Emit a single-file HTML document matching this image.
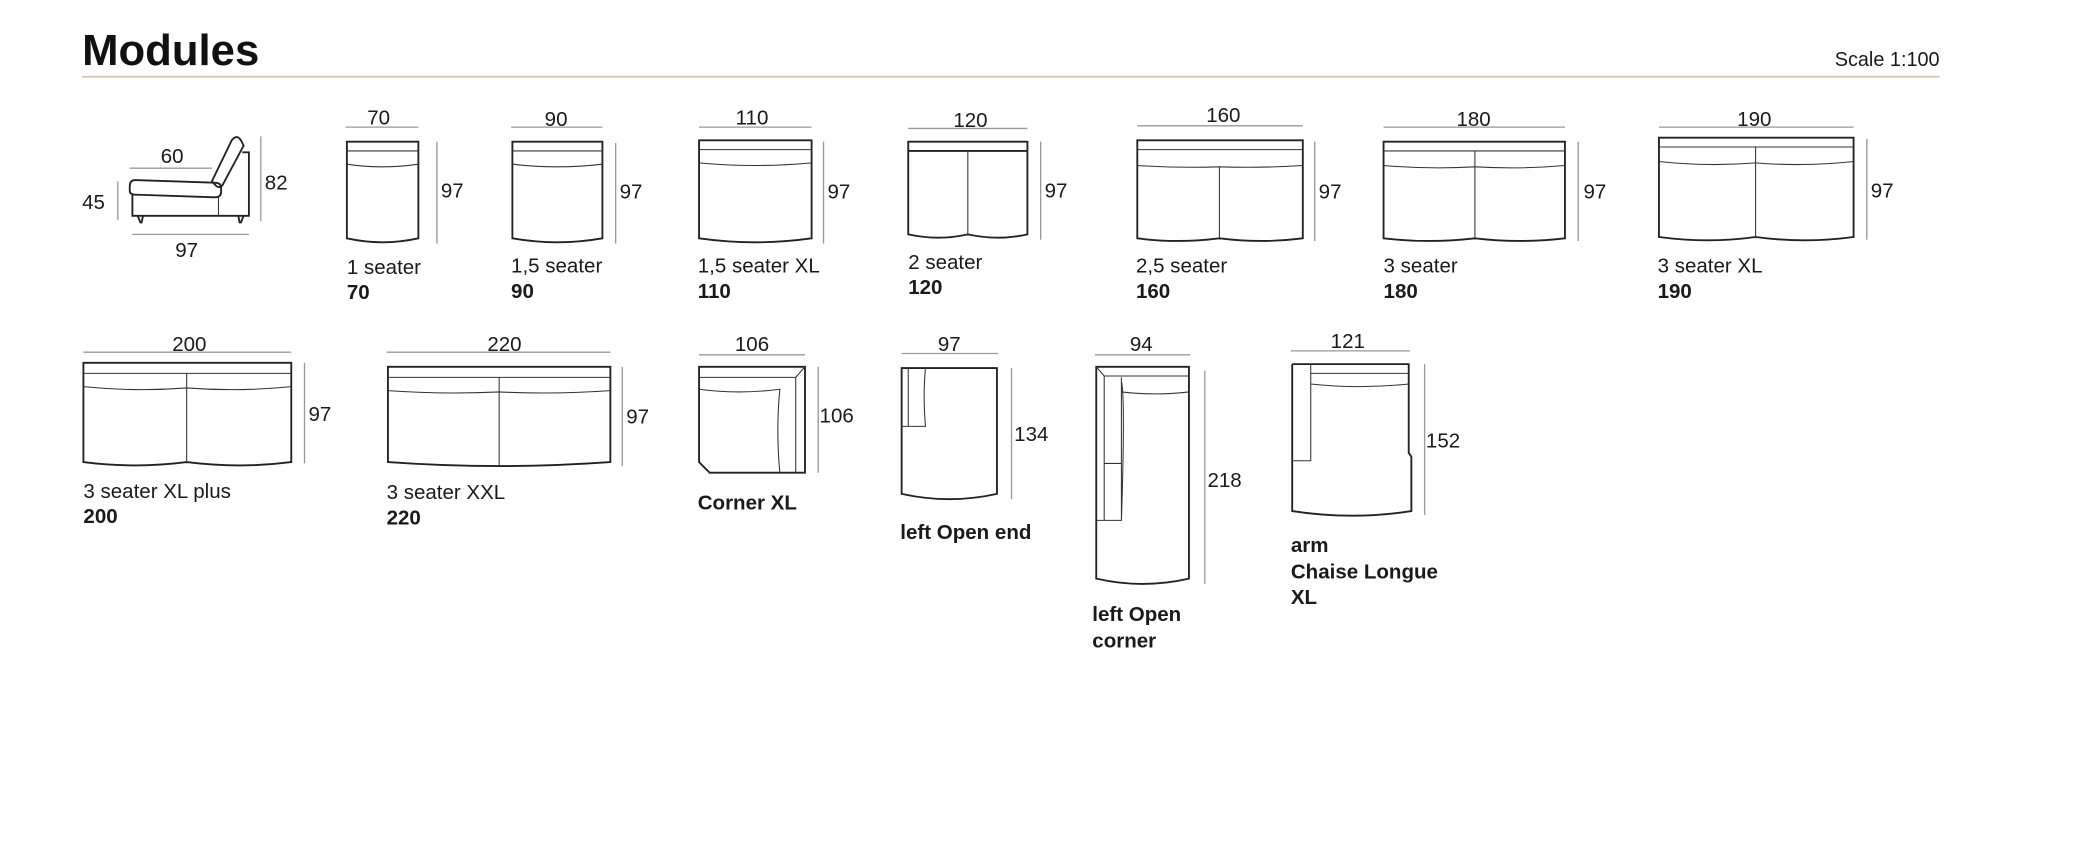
<!DOCTYPE html>
<html><head><meta charset="utf-8"><style>
html,body{margin:0;padding:0;background:#fff;}
svg{display:block}
text{font-family:"Liberation Sans",sans-serif;fill:#1a1a1a}
.l{font-size:15.5px}
.b{font-size:15.5px;font-weight:bold}
.o{fill:none;stroke:#222;stroke-width:1.4}
.t{fill:none;stroke:#333;stroke-width:0.8}
.d{stroke:#999;stroke-width:1}
</style></head><body>
<svg width="2076" height="856" viewBox="0 0 1568 646.5" preserveAspectRatio="none">
<text x="62" y="49" style="font-size:33px;font-weight:bold;fill:#111">Modules</text>
<text x="1465" y="50" text-anchor="end" class="l" style="font-size:15px">Scale 1:100</text>
<line x1="62" y1="58" x2="1465" y2="58" stroke="#cfc6b4" stroke-width="1.3"/>

<!-- side view -->
<line class="d" x1="98" y1="127" x2="160" y2="127"/><text class="l" x="130" y="123" text-anchor="middle">60</text>
<line class="d" x1="197" y1="103" x2="197" y2="167"/><text class="l" x="200" y="143">82</text>
<line class="d" x1="89" y1="137" x2="89" y2="166"/><text class="l" x="62" y="158">45</text>
<line class="d" x1="100" y1="177" x2="188" y2="177"/><text class="l" x="141" y="194" text-anchor="middle">97</text>
<path class="o" d="M100,147 V163 H188 V115 H183"/>
<path class="o" d="M102,136 Q98,136 98,141 V144 Q98,147 102,147 L162,149 Q167,149 167,145 V142 Q167,138 162,138 Z"/>
<path class="o" d="M160,137 L175,106 Q179,101 182,106 L184,110 L168,140 Q165,143 162,139 Z"/>
<line class="t" x1="165" y1="149" x2="165" y2="163"/>
<path class="o" d="M104,163 L106,168 H107 L108,163 M180,163 L181,168 H182 L184,163"/>

<!-- row 1 -->
<g>
<line class="d" x1="261" y1="96" x2="316" y2="96"/><text class="l" x="286" y="94" text-anchor="middle">70</text>
<path class="o" d="M262,107 H316 V180 Q289,186 262,180 Z"/><line class="t" x1="262" y1="114" x2="316" y2="114"/><path class="t" d="M262,124 Q289,128 316,124"/>
<line class="d" x1="330" y1="107" x2="330" y2="184"/><text class="l" x="333" y="149">97</text>
<text class="l" x="262" y="207">1 seater</text><text class="b" x="262" y="226">70</text>
</g>
<g>
<line class="d" x1="386" y1="96" x2="455" y2="96"/><text class="l" x="420" y="95" text-anchor="middle">90</text>
<path class="o" d="M387,107 H455 V180 Q421,186 387,180 Z"/><line class="t" x1="387" y1="114" x2="455" y2="114"/><path class="t" d="M387,124 Q421,128 455,124"/>
<line class="d" x1="465" y1="108" x2="465" y2="184"/><text class="l" x="468" y="150">97</text>
<text class="l" x="386" y="206">1,5 seater</text><text class="b" x="386" y="225">90</text>
</g>
<g>
<line class="d" x1="528" y1="96" x2="613" y2="96"/><text class="l" x="568" y="94" text-anchor="middle">110</text>
<path class="o" d="M528,106 H613 V180 Q570,186 528,180 Z"/><line class="t" x1="528" y1="113" x2="613" y2="113"/><path class="t" d="M528,123 Q570,127 613,123"/>
<line class="d" x1="622" y1="107" x2="622" y2="184"/><text class="l" x="625" y="150">97</text>
<text class="l" x="527" y="206">1,5 seater XL</text><text class="b" x="527" y="225">110</text>
</g>
<g>
<line class="d" x1="686" y1="97" x2="776" y2="97"/><text class="l" x="733" y="96" text-anchor="middle">120</text>
<path class="o" d="M686,107 H776 V177 Q754,182 731,177 Q709,182 686,177 Z"/><line class="o" x1="686" y1="114" x2="776" y2="114"/><line class="t" x1="731" y1="114" x2="731" y2="178"/>
<line class="d" x1="786" y1="107" x2="786" y2="181"/><text class="l" x="789" y="149">97</text>
<text class="l" x="686" y="203">2 seater</text><text class="b" x="686" y="222">120</text>
</g>
<g>
<line class="d" x1="859" y1="95" x2="984" y2="95"/><text class="l" x="924" y="92" text-anchor="middle">160</text>
<path class="o" d="M859,106 H984 V180 Q953,184 921,180 Q890,184 859,180 Z"/><line class="t" x1="859" y1="113" x2="984" y2="113"/><path class="t" d="M859,125 Q890,127 921,126 Q953,127 984,125"/><line class="t" x1="921" y1="126" x2="921" y2="181"/>
<line class="d" x1="993" y1="107" x2="993" y2="182"/><text class="l" x="996" y="150">97</text>
<text class="l" x="858" y="206">2,5 seater</text><text class="b" x="858" y="225">160</text>
</g>
<g>
<line class="d" x1="1045" y1="96" x2="1182" y2="96"/><text class="l" x="1113" y="95" text-anchor="middle">180</text>
<path class="o" d="M1045,107 H1182 V180 Q1148,184 1114,180 Q1080,184 1045,180 Z"/><line class="t" x1="1045" y1="114" x2="1182" y2="114"/><path class="t" d="M1045,125 Q1080,128 1114,126 Q1148,128 1182,125"/><line class="t" x1="1114" y1="114" x2="1114" y2="181"/>
<line class="d" x1="1192" y1="107" x2="1192" y2="182"/><text class="l" x="1196" y="150">97</text>
<text class="l" x="1045" y="206">3 seater</text><text class="b" x="1045" y="225">180</text>
</g>
<g>
<line class="d" x1="1253" y1="96" x2="1400" y2="96"/><text class="l" x="1325" y="95" text-anchor="middle">190</text>
<path class="o" d="M1253,104 H1400 V179 Q1363,184 1326,179 Q1290,184 1253,179 Z"/><line class="t" x1="1253" y1="111" x2="1400" y2="111"/><path class="t" d="M1253,122 Q1290,126 1326,123 Q1363,126 1400,122"/><line class="t" x1="1326" y1="111" x2="1326" y2="180"/>
<line class="d" x1="1410" y1="105" x2="1410" y2="181"/><text class="l" x="1413" y="149">97</text>
<text class="l" x="1252" y="206">3 seater XL</text><text class="b" x="1252" y="225">190</text>
</g>

<!-- row 2 -->
<g>
<line class="d" x1="63" y1="266" x2="220" y2="266"/><text class="l" x="143" y="265" text-anchor="middle">200</text>
<path class="o" d="M63,274 H220 V349 Q181,354 141,349 Q102,354 63,349 Z"/><line class="t" x1="63" y1="282" x2="220" y2="282"/><path class="t" d="M63,292 Q102,296 141,293 Q181,296 220,292"/><line class="t" x1="141" y1="282" x2="141" y2="350"/>
<line class="d" x1="230" y1="274" x2="230" y2="350"/><text class="l" x="233" y="318">97</text>
<text class="l" x="63" y="376">3 seater XL plus</text><text class="b" x="63" y="395">200</text>
</g>
<g>
<line class="d" x1="292" y1="266" x2="461" y2="266"/><text class="l" x="381" y="265" text-anchor="middle">220</text>
<path class="o" d="M293,277 H461 V349 Q377,355 293,349 Z"/><line class="t" x1="293" y1="285" x2="461" y2="285"/><path class="t" d="M293,295 Q335,298 377,296 Q419,298 461,295"/><line class="t" x1="377" y1="285" x2="377" y2="352"/>
<line class="d" x1="470" y1="277" x2="470" y2="352"/><text class="l" x="473" y="320">97</text>
<text class="l" x="292" y="377">3 seater XXL</text><text class="b" x="292" y="396">220</text>
</g>
<g>
<line class="d" x1="528" y1="268" x2="608" y2="268"/><text class="l" x="568" y="265" text-anchor="middle" style="font-weight:300">106</text>
<path class="o" d="M528,277 H608 V357 H536 L528,349 Z"/><path class="t" d="M528,285 H601 L608,277 M601,285 V357"/><path class="t" d="M528,294 Q558,298 589,294 Q586,325 589,357"/>
<line class="d" x1="618" y1="277" x2="618" y2="357"/><text class="l" x="619" y="319">106</text>
<text class="b" x="527" y="385">Corner XL</text>
</g>
<g>
<line class="d" x1="681" y1="267" x2="754" y2="267"/><text class="l" x="717" y="265" text-anchor="middle">97</text>
<path class="o" d="M681,278 H753 V373 Q717,381 681,373 Z"/><path class="t" d="M686,278 V322 M681,322 H699 Q697,300 699,278"/>
<line class="d" x1="764" y1="278" x2="764" y2="377"/><text class="l" x="766" y="333">134</text>
<text class="b" x="680" y="407">left Open end</text>
</g>
<g>
<line class="d" x1="827" y1="268" x2="899" y2="268"/><text class="l" x="862" y="265" text-anchor="middle">94</text>
<path class="o" d="M828,277 H898 V437 Q863,445 828,437 Z"/><path class="t" d="M828,277 L834,284 H898 M834,284 V393 M828,393 H847 V285 M834,350 H847 M847,288 Q850,300 847,393 M847,296 Q872,299 898,296"/>
<line class="d" x1="910" y1="280" x2="910" y2="441"/><text class="l" x="912" y="368">218</text>
<text class="b" x="825" y="469">left Open</text><text class="b" x="825" y="489">corner</text>
</g>
<g>
<line class="d" x1="975" y1="265" x2="1065" y2="265"/><text class="l" x="1018" y="263" text-anchor="middle">121</text>
<path class="o" d="M976,275 H1064 V342 L1066,345 V386 Q1021,393 976,386 V275"/><path class="t" d="M990,275 V348 H976 M990,282 H1064 M990,290 Q1027,294 1064,290"/>
<line class="d" x1="1076" y1="275" x2="1076" y2="389"/><text class="l" x="1077" y="338">152</text>
<text class="b" x="975" y="417">arm</text><text class="b" x="975" y="437">Chaise Longue</text><text class="b" x="975" y="456">XL</text>
</g>
</svg>
</body></html>
